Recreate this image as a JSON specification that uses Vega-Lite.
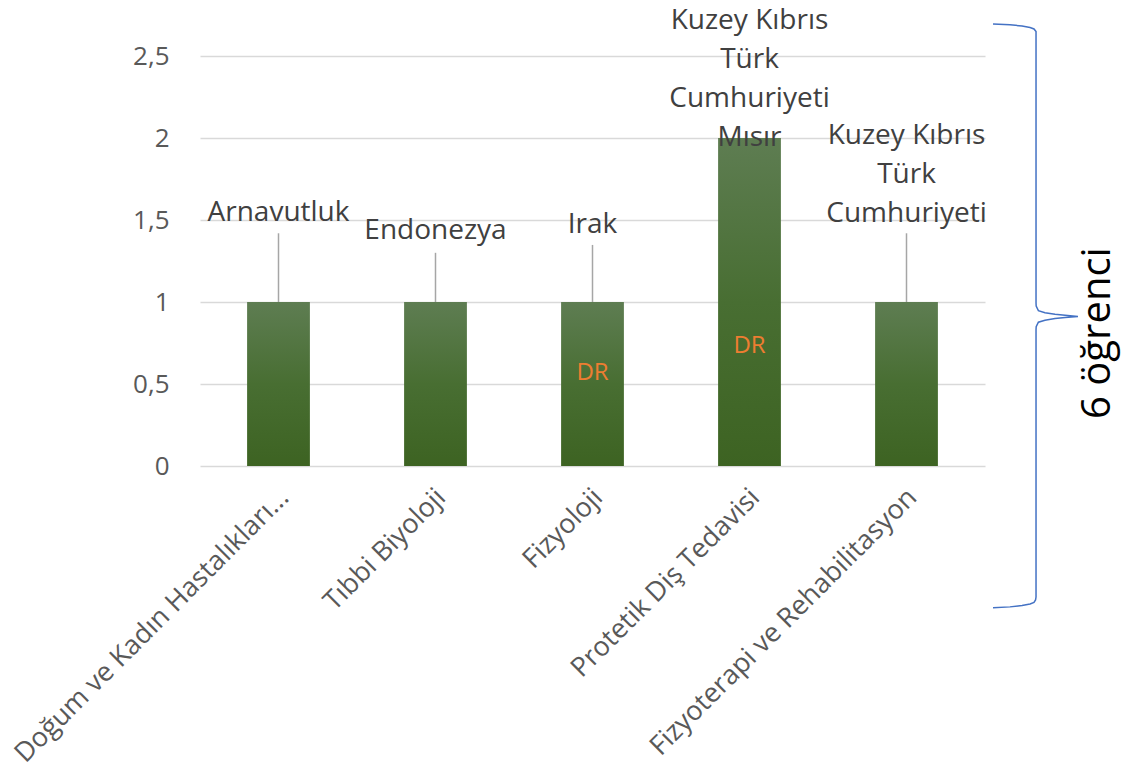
{
  "$schema": "https://vega.github.io/schema/vega-lite/v6.json",
  "width": 785,
  "height": 410,
  "autosize": {"type": "none"},
  "padding": {"left": 200, "top": 56, "right": 150, "bottom": 313},
  "background": "white",
  "config": {"font": "Open Sans", "view": {"stroke": null}},
  "datasets": {
    "bars": [
      {"cat": "Doğum ve Kadın Hastalıkları...", "value": 1, "country": "Arnavutluk", "label_y": 1.628, "line_top": 1.419, "inner": null, "inner_y": null},
      {"cat": "Tıbbi Biyoloji", "value": 1, "country": "Endonezya", "label_y": 1.516, "line_top": 1.30, "inner": null, "inner_y": null},
      {"cat": "Fizyoloji", "value": 1, "country": "Irak", "label_y": 1.557, "line_top": 1.348, "inner": "DR", "inner_y": 0.524},
      {"cat": "Protetik Diş Tedavisi", "value": 2, "country": "Kuzey Kıbrıs\nTürk\nCumhuriyeti\nMısır", "label_y": 2.8, "line_top": null, "inner": "DR", "inner_y": 0.689},
      {"cat": "Fizyoterapi ve Rehabilitasyon", "value": 1, "country": "Kuzey Kıbrıs\nTürk\nCumhuriyeti", "label_y": 2.099, "line_top": 1.419, "inner": null, "inner_y": null}
    ],
    "brace": [
      {"i": 0, "bx": 5.051, "by": 2.695},
      {"i": 1, "bx": 5.159, "by": 2.690},
      {"i": 2, "bx": 5.236, "by": 2.683},
      {"i": 3, "bx": 5.287, "by": 2.674},
      {"i": 4, "bx": 5.312, "by": 2.665},
      {"i": 5, "bx": 5.325, "by": 2.649},
      {"i": 6, "bx": 5.325, "by": 2.622},
      {"i": 7, "bx": 5.325, "by": 0.994},
      {"i": 8, "bx": 5.326, "by": 0.975},
      {"i": 9, "bx": 5.340, "by": 0.947},
      {"i": 10, "bx": 5.382, "by": 0.935},
      {"i": 11, "bx": 5.446, "by": 0.925},
      {"i": 12, "bx": 5.510, "by": 0.919},
      {"i": 13, "bx": 5.592, "by": 0.912},
      {"i": 14, "bx": 5.510, "by": 0.905},
      {"i": 15, "bx": 5.446, "by": 0.899},
      {"i": 16, "bx": 5.382, "by": 0.889},
      {"i": 17, "bx": 5.340, "by": 0.877},
      {"i": 18, "bx": 5.326, "by": 0.849},
      {"i": 19, "bx": 5.325, "by": 0.830},
      {"i": 20, "bx": 5.325, "by": -0.799},
      {"i": 21, "bx": 5.322, "by": -0.817},
      {"i": 22, "bx": 5.312, "by": -0.832},
      {"i": 23, "bx": 5.287, "by": -0.841},
      {"i": 24, "bx": 5.236, "by": -0.851},
      {"i": 25, "bx": 5.159, "by": -0.859},
      {"i": 26, "bx": 5.051, "by": -0.864}
    ],
    "note": [
      {"label": "6 öğrenci", "nx": 5.718, "ny": 0.810}
    ]
  },
  "layer": [
    {
      "data": {"name": "bars"},
      "layer": [
        {
          "mark": {
            "type": "bar",
            "color": {
              "gradient": "linear",
              "x1": 0, "y1": 0, "x2": 0, "y2": 1,
              "stops": [
                {"offset": 0, "color": "#5E7D52"},
                {"offset": 0.5, "color": "#486E32"},
                {"offset": 1, "color": "#3D6322"}
              ]
            }
          },
          "encoding": {
            "x": {
              "field": "cat", "type": "nominal", "sort": null,
              "scale": {"paddingInner": 0.6, "paddingOuter": 0.3},
              "axis": {
                "title": null, "labelAngle": -45, "labelAlign": "right", "labelBaseline": "middle",
                "labelFontSize": 27, "labelColor": "#595959", "labelPadding": 27, "labelOffset": 6,
                "labelLimit": 1000, "ticks": false, "tickSize": 0, "domain": false, "grid": false
              }
            },
            "y": {
              "field": "value", "type": "quantitative",
              "scale": {"domain": [0, 2.5], "nice": false},
              "axis": {
                "title": null, "values": [0, 0.5, 1, 1.5, 2, 2.5],
                "labelExpr": "replace(format(datum.value, '~g'), '.', ',')",
                "labelFontSize": 26, "labelColor": "#595959", "labelPadding": 31,
                "ticks": false, "tickSize": 0, "domain": false,
                "grid": true, "gridColor": "#D9D9D9", "gridWidth": 1.5
              }
            }
          }
        },
        {
          "transform": [{"filter": "datum.line_top != null"}],
          "mark": {"type": "rule", "color": "#A6A6A6", "strokeWidth": 1.5},
          "encoding": {
            "x": {"field": "cat", "type": "nominal", "sort": null},
            "y": {"field": "value", "type": "quantitative", "scale": {"domain": [0, 2.5], "nice": false}},
            "y2": {"field": "line_top"}
          }
        },
        {
          "mark": {"type": "text", "baseline": "top", "align": "center", "fontSize": 28, "color": "#404040", "lineBreak": "\n", "lineHeight": 39},
          "encoding": {
            "x": {"field": "cat", "type": "nominal", "sort": null},
            "y": {"field": "label_y", "type": "quantitative", "scale": {"domain": [0, 2.5], "nice": false}},
            "text": {"field": "country"}
          }
        },
        {
          "transform": [{"filter": "datum.inner != null"}],
          "mark": {"type": "text", "baseline": "alphabetic", "align": "center", "fontSize": 24, "color": "#ED7D31"},
          "encoding": {
            "x": {"field": "cat", "type": "nominal", "sort": null},
            "y": {"field": "inner_y", "type": "quantitative", "scale": {"domain": [0, 2.5], "nice": false}},
            "text": {"field": "inner"}
          }
        }
      ]
    },
    {
      "layer": [
        {
          "data": {"name": "brace"},
          "mark": {"type": "line", "color": "#4472C4", "strokeWidth": 1.5, "interpolate": "linear"},
          "encoding": {
            "x": {"field": "bx", "type": "quantitative", "scale": {"domain": [0, 5], "nice": false, "zero": false}, "axis": null},
            "y": {"field": "by", "type": "quantitative", "scale": {"domain": [0, 2.5], "nice": false}},
            "order": {"field": "i", "type": "quantitative"}
          }
        },
        {
          "data": {"name": "note"},
          "mark": {"type": "text", "angle": 270, "align": "center", "baseline": "middle", "fontSize": 40, "color": "#000000"},
          "encoding": {
            "x": {"field": "nx", "type": "quantitative", "scale": {"domain": [0, 5], "nice": false, "zero": false}, "axis": null},
            "y": {"field": "ny", "type": "quantitative", "scale": {"domain": [0, 2.5], "nice": false}},
            "text": {"field": "label"}
          }
        }
      ]
    }
  ],
  "resolve": {"scale": {"x": "independent"}}
}
